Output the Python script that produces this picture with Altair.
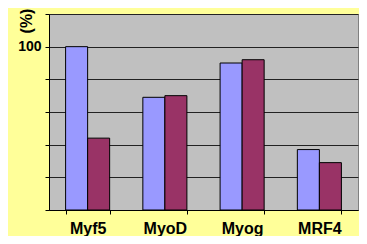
import altair as alt
import pandas as pd

categories = ["Myf5", "MyoD", "Myog", "MRF4"]
series_names = ["A", "B"]
series_a = [100, 69, 90, 37]
series_b = [44, 70, 92, 29]
y_ticks = [0, 20, 40, 60, 80, 100, 120]
colors = ["#9999FF", "#993366"]
y_title = "(%)"

rows = []
for c, a, b in zip(categories, series_a, series_b):
    rows.append({"gene": c, "series": "A", "value": a})
    rows.append({"gene": c, "series": "B", "value": b})
df = pd.DataFrame(rows)

FONT = "Liberation Sans"

bars = alt.Chart(df).mark_bar(stroke="black", strokeWidth=1).encode(
    x=alt.X(
        "gene:N", sort=categories,
        scale=alt.Scale(paddingInner=0.43, paddingOuter=0.215),
        axis=alt.Axis(
            title=None, labelAngle=0, tickBand="extent", tickSize=4,
            tickColor="black", domainColor="black", labelColor="black",
            labelFont=FONT, labelFontSize=16, labelFontWeight="bold",
            labelBaseline="alphabetic", labelPadding=19,
        ),
    ),
    xOffset=alt.XOffset("series:N", sort=series_names),
    y=alt.Y(
        "value:Q",
        scale=alt.Scale(domain=[0, 120], nice=False),
        axis=alt.Axis(
            values=y_ticks,
            labelExpr="datum.value == 100 ? '100' : ''",
            labelFont=FONT, labelFontSize=14, labelFontWeight="bold",
            labelColor="black", labelPadding=4, tickSize=4,
            tickColor="black", domainColor="black",
            grid=True, gridColor="#222222", gridWidth=1,
            title=None,
        ),
    ),
    color=alt.Color(
        "series:N",
        scale=alt.Scale(domain=series_names, range=colors),
        legend=None,
    ),
)

title_df = pd.DataFrame({"t": [y_title]})
title = alt.Chart(title_df).mark_text(
    angle=270, font=FONT, fontSize=16, fontWeight="bold", color="black",
    align="center", baseline="middle",
).encode(x=alt.value(-22), y=alt.value(7), text="t:N")

chart = alt.layer(bars, title).properties(
    width=309, height=196, background="#FFFF99",
    padding={"left": 41, "top": 6, "right": 1, "bottom": 26},
    autosize=alt.AutoSizeParams(type="none"),
).configure_view(fill="#C0C0C0", stroke="#808080")

chart.save("out.html", embed_options={"renderer": "svg", "actions": False})
